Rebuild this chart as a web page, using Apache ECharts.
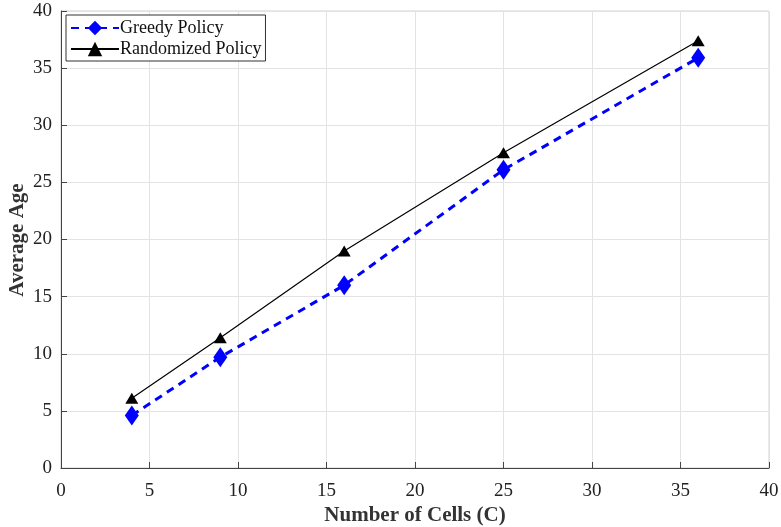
<!DOCTYPE html>
<html><head><meta charset="utf-8">
<script src="https://cdn.jsdelivr.net/npm/echarts@6/dist/echarts.min.js"></script>
<style>html,body{margin:0;padding:0;background:#fff}#c{width:781px;height:527px}</style>
</head><body><div id="c"></div>
<script>
const cells = [4, 9, 16, 25, 36];
const greedy = [4.6, 9.7, 16.0, 26.1, 35.9];
const randomized = [6.1, 11.4, 19.0, 27.6, 37.4];
const seriesNames = ['Greedy Policy', 'Randomized Policy'];
const xTitle = 'Number of Cells (C)';
const yTitle = 'Average Age';

const font = '"Liberation Serif", "Times New Roman", serif';
const chart = echarts.init(document.getElementById('c'));
const axisCommon = {
  min: 0, max: 40, interval: 5,
  axisLine: { show: true, onZero: false, lineStyle: { color: '#444', width: 1 } },
  axisTick: { show: true, inside: true, length: 6, lineStyle: { color: '#444' } },
  axisLabel: { color: '#222', fontFamily: font, fontSize: 19 },
  splitLine: { show: true, lineStyle: { color: '#e3e3e3', width: 1 } },
  nameLocation: 'middle',
  nameMoveOverlap: false,
  nameTextStyle: { color: '#333', fontFamily: font, fontSize: 21, fontWeight: 'bold' }
};
chart.setOption({
  animation: false,
  backgroundColor: '#fff',
  textStyle: { fontFamily: font },
  grid: { left: 61, right: 12, top: 11, bottom: 59, containLabel: false, outerBoundsMode: 'none',
          show: true, borderColor: '#d0d0d0', borderWidth: 1 },
  legend: {
    left: 66, top: 15, orient: 'vertical',
    backgroundColor: '#fff', borderColor: '#333', borderWidth: 1, borderRadius: 0,
    padding: [4, 4, 3, 4], itemGap: 3, itemWidth: 48, itemHeight: 18,
    textStyle: { fontFamily: font, fontSize: 18, color: '#111', padding: [0, 0, 0, -4] },
    data: seriesNames
  },
  graphic: [{
    type: 'text', x: 18, y: 240, rotation: Math.PI / 2,
    style: { text: yTitle, fill: '#333', font: 'bold 21px ' + font, align: 'center', verticalAlign: 'middle' }
  }],
  xAxis: Object.assign({}, axisCommon, { type: 'value', name: xTitle, nameGap: 37,
    axisLabel: Object.assign({}, axisCommon.axisLabel, { margin: 14 }) }),
  yAxis: Object.assign({}, axisCommon, { type: 'value', name: '',
    axisLabel: Object.assign({}, axisCommon.axisLabel, { margin: 9 }) }),
  series: [
    {
      name: seriesNames[0], type: 'line',
      data: cells.map((c, i) => [c, greedy[i]]),
      symbol: 'diamond', symbolSize: [14, 20],
      lineStyle: { color: '#0000ff', width: 3, type: [8, 6] },
      itemStyle: { color: '#0000ff', borderWidth: 0 },
      z: 2
    },
    {
      name: seriesNames[1], type: 'line',
      data: cells.map((c, i) => [c, randomized[i]]),
      symbol: 'triangle', symbolSize: [13, 11],
      lineStyle: { color: '#000', width: 1.2 },
      itemStyle: { color: '#000', borderWidth: 0 },
      z: 3
    }
  ]
});
</script></body></html>
